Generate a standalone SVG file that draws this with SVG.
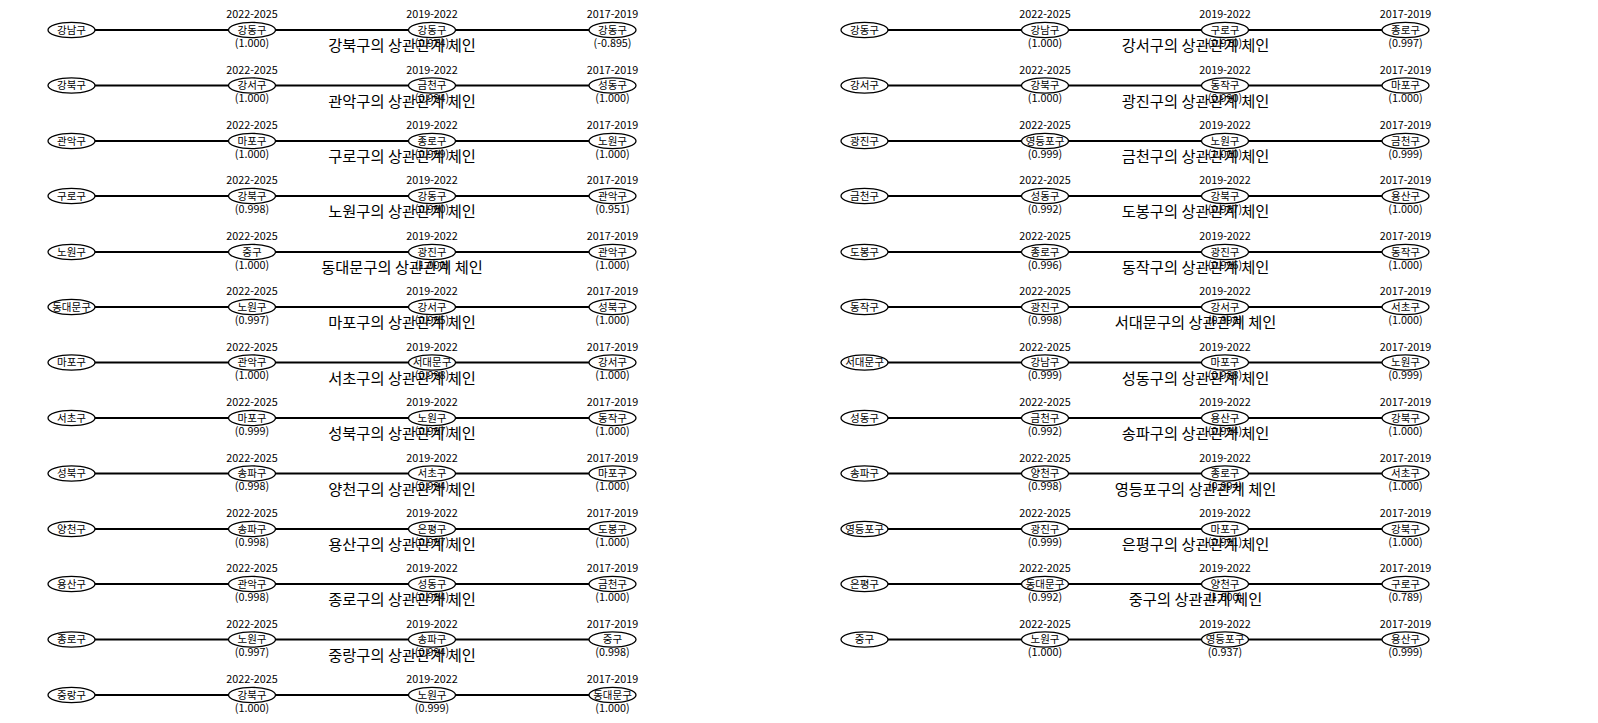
<svg xmlns="http://www.w3.org/2000/svg" width="1598" height="723" viewBox="0 0 1598 723">
<style>
text{font-family:"Noto Sans CJK KR","Noto Sans",sans-serif;text-anchor:middle;fill:#000}
.n ellipse{fill:#fff;stroke:#000;stroke-width:1.3}
.n text{font-size:10.5px}
.n text.y,.n text.v{font-size:10.8px}
.e line{stroke:#000;stroke-width:2}
.t{font-size:15.3px}
</style>
<rect width="1598" height="723" fill="#fff"/>
<g id="connectors" class="e">
<g transform="translate(0,30)"><line x1="71.5" x2="252"/><line x1="252" x2="432"/><line x1="432" x2="612.5"/><line x1="864.5" x2="1045"/><line x1="1045" x2="1225"/><line x1="1225" x2="1405.5"/></g>
<g transform="translate(0,85.5)"><line x1="71.5" x2="252"/><line x1="252" x2="432"/><line x1="432" x2="612.5"/><line x1="864.5" x2="1045"/><line x1="1045" x2="1225"/><line x1="1225" x2="1405.5"/></g>
<g transform="translate(0,141)"><line x1="71.5" x2="252"/><line x1="252" x2="432"/><line x1="432" x2="612.5"/><line x1="864.5" x2="1045"/><line x1="1045" x2="1225"/><line x1="1225" x2="1405.5"/></g>
<g transform="translate(0,196)"><line x1="71.5" x2="252"/><line x1="252" x2="432"/><line x1="432" x2="612.5"/><line x1="864.5" x2="1045"/><line x1="1045" x2="1225"/><line x1="1225" x2="1405.5"/></g>
<g transform="translate(0,252)"><line x1="71.5" x2="252"/><line x1="252" x2="432"/><line x1="432" x2="612.5"/><line x1="864.5" x2="1045"/><line x1="1045" x2="1225"/><line x1="1225" x2="1405.5"/></g>
<g transform="translate(0,307)"><line x1="71.5" x2="252"/><line x1="252" x2="432"/><line x1="432" x2="612.5"/><line x1="864.5" x2="1045"/><line x1="1045" x2="1225"/><line x1="1225" x2="1405.5"/></g>
<g transform="translate(0,362.5)"><line x1="71.5" x2="252"/><line x1="252" x2="432"/><line x1="432" x2="612.5"/><line x1="864.5" x2="1045"/><line x1="1045" x2="1225"/><line x1="1225" x2="1405.5"/></g>
<g transform="translate(0,418)"><line x1="71.5" x2="252"/><line x1="252" x2="432"/><line x1="432" x2="612.5"/><line x1="864.5" x2="1045"/><line x1="1045" x2="1225"/><line x1="1225" x2="1405.5"/></g>
<g transform="translate(0,473.5)"><line x1="71.5" x2="252"/><line x1="252" x2="432"/><line x1="432" x2="612.5"/><line x1="864.5" x2="1045"/><line x1="1045" x2="1225"/><line x1="1225" x2="1405.5"/></g>
<g transform="translate(0,529)"><line x1="71.5" x2="252"/><line x1="252" x2="432"/><line x1="432" x2="612.5"/><line x1="864.5" x2="1045"/><line x1="1045" x2="1225"/><line x1="1225" x2="1405.5"/></g>
<g transform="translate(0,584)"><line x1="71.5" x2="252"/><line x1="252" x2="432"/><line x1="432" x2="612.5"/><line x1="864.5" x2="1045"/><line x1="1045" x2="1225"/><line x1="1225" x2="1405.5"/></g>
<g transform="translate(0,639.5)"><line x1="71.5" x2="252"/><line x1="252" x2="432"/><line x1="432" x2="612.5"/><line x1="864.5" x2="1045"/><line x1="1045" x2="1225"/><line x1="1225" x2="1405.5"/></g>
<g transform="translate(0,695)"><line x1="71.5" x2="252"/><line x1="252" x2="432"/><line x1="432" x2="612.5"/></g>
</g>

<!-- LEFT PANEL -->
<g transform="translate(0,30)">
<g id="L0a" class="n" transform="translate(71.5,0)"><ellipse rx="23.5" ry="7.6"/><text y="3.6">강남구</text></g>
<g id="L0b" class="n" transform="translate(252,0)"><ellipse rx="23.5" ry="7.6"/><text y="3.6">강동구</text><text class="y" y="-11.9">2022-2025</text><text class="v" y="16.8">(1.000)</text></g>
<g id="L0c" class="n" transform="translate(432,0)"><ellipse rx="23.5" ry="7.6"/><text y="3.6">강동구</text><text class="y" y="-11.9">2019-2022</text><text class="v" y="16.8">(0.974)</text></g>
<g id="L0d" class="n" transform="translate(612.5,0)"><ellipse rx="23.5" ry="7.6"/><text y="3.6">강동구</text><text class="y" y="-11.9">2017-2019</text><text class="v" y="16.8">(-0.895)</text></g>
</g>
<g transform="translate(0,85.5)">
<g id="L1a" class="n" transform="translate(71.5,0)"><ellipse rx="23.5" ry="7.6"/><text y="3.6">강북구</text></g>
<g id="L1b" class="n" transform="translate(252,0)"><ellipse rx="23.5" ry="7.6"/><text y="3.6">강서구</text><text class="y" y="-11.9">2022-2025</text><text class="v" y="16.8">(1.000)</text></g>
<g id="L1c" class="n" transform="translate(432,0)"><ellipse rx="23.5" ry="7.6"/><text y="3.6">금천구</text><text class="y" y="-11.9">2019-2022</text><text class="v" y="16.8">(0.994)</text></g>
<g id="L1d" class="n" transform="translate(612.5,0)"><ellipse rx="23.5" ry="7.6"/><text y="3.6">성동구</text><text class="y" y="-11.9">2017-2019</text><text class="v" y="16.8">(1.000)</text></g>
</g>
<g transform="translate(0,141)">
<g id="L2a" class="n" transform="translate(71.5,0)"><ellipse rx="23.5" ry="7.6"/><text y="3.6">관악구</text></g>
<g id="L2b" class="n" transform="translate(252,0)"><ellipse rx="23.5" ry="7.6"/><text y="3.6">마포구</text><text class="y" y="-11.9">2022-2025</text><text class="v" y="16.8">(1.000)</text></g>
<g id="L2c" class="n" transform="translate(432,0)"><ellipse rx="23.5" ry="7.6"/><text y="3.6">종로구</text><text class="y" y="-11.9">2019-2022</text><text class="v" y="16.8">(0.999)</text></g>
<g id="L2d" class="n" transform="translate(612.5,0)"><ellipse rx="23.5" ry="7.6"/><text y="3.6">노원구</text><text class="y" y="-11.9">2017-2019</text><text class="v" y="16.8">(1.000)</text></g>
</g>
<g transform="translate(0,196)">
<g id="L3a" class="n" transform="translate(71.5,0)"><ellipse rx="23.5" ry="7.6"/><text y="3.6">구로구</text></g>
<g id="L3b" class="n" transform="translate(252,0)"><ellipse rx="23.5" ry="7.6"/><text y="3.6">강북구</text><text class="y" y="-11.9">2022-2025</text><text class="v" y="16.8">(0.998)</text></g>
<g id="L3c" class="n" transform="translate(432,0)"><ellipse rx="23.5" ry="7.6"/><text y="3.6">강동구</text><text class="y" y="-11.9">2019-2022</text><text class="v" y="16.8">(0.990)</text></g>
<g id="L3d" class="n" transform="translate(612.5,0)"><ellipse rx="23.5" ry="7.6"/><text y="3.6">관악구</text><text class="y" y="-11.9">2017-2019</text><text class="v" y="16.8">(0.951)</text></g>
</g>
<g transform="translate(0,252)">
<g id="L4a" class="n" transform="translate(71.5,0)"><ellipse rx="23.5" ry="7.6"/><text y="3.6">노원구</text></g>
<g id="L4b" class="n" transform="translate(252,0)"><ellipse rx="23.5" ry="7.6"/><text y="3.6">중구</text><text class="y" y="-11.9">2022-2025</text><text class="v" y="16.8">(1.000)</text></g>
<g id="L4c" class="n" transform="translate(432,0)"><ellipse rx="23.5" ry="7.6"/><text y="3.6">광진구</text><text class="y" y="-11.9">2019-2022</text><text class="v" y="16.8">(1.000)</text></g>
<g id="L4d" class="n" transform="translate(612.5,0)"><ellipse rx="23.5" ry="7.6"/><text y="3.6">관악구</text><text class="y" y="-11.9">2017-2019</text><text class="v" y="16.8">(1.000)</text></g>
</g>
<g transform="translate(0,307)">
<g id="L5a" class="n" transform="translate(71.5,0)"><ellipse rx="23.5" ry="7.6"/><text y="3.6">동대문구</text></g>
<g id="L5b" class="n" transform="translate(252,0)"><ellipse rx="23.5" ry="7.6"/><text y="3.6">노원구</text><text class="y" y="-11.9">2022-2025</text><text class="v" y="16.8">(0.997)</text></g>
<g id="L5c" class="n" transform="translate(432,0)"><ellipse rx="23.5" ry="7.6"/><text y="3.6">강서구</text><text class="y" y="-11.9">2019-2022</text><text class="v" y="16.8">(0.995)</text></g>
<g id="L5d" class="n" transform="translate(612.5,0)"><ellipse rx="23.5" ry="7.6"/><text y="3.6">성북구</text><text class="y" y="-11.9">2017-2019</text><text class="v" y="16.8">(1.000)</text></g>
</g>
<g transform="translate(0,362.5)">
<g id="L6a" class="n" transform="translate(71.5,0)"><ellipse rx="23.5" ry="7.6"/><text y="3.6">마포구</text></g>
<g id="L6b" class="n" transform="translate(252,0)"><ellipse rx="23.5" ry="7.6"/><text y="3.6">관악구</text><text class="y" y="-11.9">2022-2025</text><text class="v" y="16.8">(1.000)</text></g>
<g id="L6c" class="n" transform="translate(432,0)"><ellipse rx="23.5" ry="7.6"/><text y="3.6">서대문구</text><text class="y" y="-11.9">2019-2022</text><text class="v" y="16.8">(0.998)</text></g>
<g id="L6d" class="n" transform="translate(612.5,0)"><ellipse rx="23.5" ry="7.6"/><text y="3.6">강서구</text><text class="y" y="-11.9">2017-2019</text><text class="v" y="16.8">(1.000)</text></g>
</g>
<g transform="translate(0,418)">
<g id="L7a" class="n" transform="translate(71.5,0)"><ellipse rx="23.5" ry="7.6"/><text y="3.6">서초구</text></g>
<g id="L7b" class="n" transform="translate(252,0)"><ellipse rx="23.5" ry="7.6"/><text y="3.6">마포구</text><text class="y" y="-11.9">2022-2025</text><text class="v" y="16.8">(0.999)</text></g>
<g id="L7c" class="n" transform="translate(432,0)"><ellipse rx="23.5" ry="7.6"/><text y="3.6">노원구</text><text class="y" y="-11.9">2019-2022</text><text class="v" y="16.8">(0.997)</text></g>
<g id="L7d" class="n" transform="translate(612.5,0)"><ellipse rx="23.5" ry="7.6"/><text y="3.6">동작구</text><text class="y" y="-11.9">2017-2019</text><text class="v" y="16.8">(1.000)</text></g>
</g>
<g transform="translate(0,473.5)">
<g id="L8a" class="n" transform="translate(71.5,0)"><ellipse rx="23.5" ry="7.6"/><text y="3.6">성북구</text></g>
<g id="L8b" class="n" transform="translate(252,0)"><ellipse rx="23.5" ry="7.6"/><text y="3.6">송파구</text><text class="y" y="-11.9">2022-2025</text><text class="v" y="16.8">(0.998)</text></g>
<g id="L8c" class="n" transform="translate(432,0)"><ellipse rx="23.5" ry="7.6"/><text y="3.6">서초구</text><text class="y" y="-11.9">2019-2022</text><text class="v" y="16.8">(0.994)</text></g>
<g id="L8d" class="n" transform="translate(612.5,0)"><ellipse rx="23.5" ry="7.6"/><text y="3.6">마포구</text><text class="y" y="-11.9">2017-2019</text><text class="v" y="16.8">(1.000)</text></g>
</g>
<g transform="translate(0,529)">
<g id="L9a" class="n" transform="translate(71.5,0)"><ellipse rx="23.5" ry="7.6"/><text y="3.6">양천구</text></g>
<g id="L9b" class="n" transform="translate(252,0)"><ellipse rx="23.5" ry="7.6"/><text y="3.6">송파구</text><text class="y" y="-11.9">2022-2025</text><text class="v" y="16.8">(0.998)</text></g>
<g id="L9c" class="n" transform="translate(432,0)"><ellipse rx="23.5" ry="7.6"/><text y="3.6">은평구</text><text class="y" y="-11.9">2019-2022</text><text class="v" y="16.8">(0.997)</text></g>
<g id="L9d" class="n" transform="translate(612.5,0)"><ellipse rx="23.5" ry="7.6"/><text y="3.6">도봉구</text><text class="y" y="-11.9">2017-2019</text><text class="v" y="16.8">(1.000)</text></g>
</g>
<g transform="translate(0,584)">
<g id="L10a" class="n" transform="translate(71.5,0)"><ellipse rx="23.5" ry="7.6"/><text y="3.6">용산구</text></g>
<g id="L10b" class="n" transform="translate(252,0)"><ellipse rx="23.5" ry="7.6"/><text y="3.6">관악구</text><text class="y" y="-11.9">2022-2025</text><text class="v" y="16.8">(0.998)</text></g>
<g id="L10c" class="n" transform="translate(432,0)"><ellipse rx="23.5" ry="7.6"/><text y="3.6">성동구</text><text class="y" y="-11.9">2019-2022</text><text class="v" y="16.8">(0.994)</text></g>
<g id="L10d" class="n" transform="translate(612.5,0)"><ellipse rx="23.5" ry="7.6"/><text y="3.6">금천구</text><text class="y" y="-11.9">2017-2019</text><text class="v" y="16.8">(1.000)</text></g>
</g>
<g transform="translate(0,639.5)">
<g id="L11a" class="n" transform="translate(71.5,0)"><ellipse rx="23.5" ry="7.6"/><text y="3.6">종로구</text></g>
<g id="L11b" class="n" transform="translate(252,0)"><ellipse rx="23.5" ry="7.6"/><text y="3.6">노원구</text><text class="y" y="-11.9">2022-2025</text><text class="v" y="16.8">(0.997)</text></g>
<g id="L11c" class="n" transform="translate(432,0)"><ellipse rx="23.5" ry="7.6"/><text y="3.6">송파구</text><text class="y" y="-11.9">2019-2022</text><text class="v" y="16.8">(0.994)</text></g>
<g id="L11d" class="n" transform="translate(612.5,0)"><ellipse rx="23.5" ry="7.6"/><text y="3.6">중구</text><text class="y" y="-11.9">2017-2019</text><text class="v" y="16.8">(0.998)</text></g>
</g>
<g transform="translate(0,695)">
<g id="L12a" class="n" transform="translate(71.5,0)"><ellipse rx="23.5" ry="7.6"/><text y="3.6">중랑구</text></g>
<g id="L12b" class="n" transform="translate(252,0)"><ellipse rx="23.5" ry="7.6"/><text y="3.6">강북구</text><text class="y" y="-11.9">2022-2025</text><text class="v" y="16.8">(1.000)</text></g>
<g id="L12c" class="n" transform="translate(432,0)"><ellipse rx="23.5" ry="7.6"/><text y="3.6">노원구</text><text class="y" y="-11.9">2019-2022</text><text class="v" y="16.8">(0.999)</text></g>
<g id="L12d" class="n" transform="translate(612.5,0)"><ellipse rx="23.5" ry="7.6"/><text y="3.6">동대문구</text><text class="y" y="-11.9">2017-2019</text><text class="v" y="16.8">(1.000)</text></g>
</g>

<!-- RIGHT PANEL -->
<g transform="translate(0,30)">
<g id="R0a" class="n" transform="translate(864.5,0)"><ellipse rx="23.5" ry="7.6"/><text y="3.6">강동구</text></g>
<g id="R0b" class="n" transform="translate(1045,0)"><ellipse rx="23.5" ry="7.6"/><text y="3.6">강남구</text><text class="y" y="-11.9">2022-2025</text><text class="v" y="16.8">(1.000)</text></g>
<g id="R0c" class="n" transform="translate(1225,0)"><ellipse rx="23.5" ry="7.6"/><text y="3.6">구로구</text><text class="y" y="-11.9">2019-2022</text><text class="v" y="16.8">(0.970)</text></g>
<g id="R0d" class="n" transform="translate(1405.5,0)"><ellipse rx="23.5" ry="7.6"/><text y="3.6">종로구</text><text class="y" y="-11.9">2017-2019</text><text class="v" y="16.8">(0.997)</text></g>
</g>
<g transform="translate(0,85.5)">
<g id="R1a" class="n" transform="translate(864.5,0)"><ellipse rx="23.5" ry="7.6"/><text y="3.6">강서구</text></g>
<g id="R1b" class="n" transform="translate(1045,0)"><ellipse rx="23.5" ry="7.6"/><text y="3.6">강북구</text><text class="y" y="-11.9">2022-2025</text><text class="v" y="16.8">(1.000)</text></g>
<g id="R1c" class="n" transform="translate(1225,0)"><ellipse rx="23.5" ry="7.6"/><text y="3.6">동작구</text><text class="y" y="-11.9">2019-2022</text><text class="v" y="16.8">(0.990)</text></g>
<g id="R1d" class="n" transform="translate(1405.5,0)"><ellipse rx="23.5" ry="7.6"/><text y="3.6">마포구</text><text class="y" y="-11.9">2017-2019</text><text class="v" y="16.8">(1.000)</text></g>
</g>
<g transform="translate(0,141)">
<g id="R2a" class="n" transform="translate(864.5,0)"><ellipse rx="23.5" ry="7.6"/><text y="3.6">광진구</text></g>
<g id="R2b" class="n" transform="translate(1045,0)"><ellipse rx="23.5" ry="7.6"/><text y="3.6">영등포구</text><text class="y" y="-11.9">2022-2025</text><text class="v" y="16.8">(0.999)</text></g>
<g id="R2c" class="n" transform="translate(1225,0)"><ellipse rx="23.5" ry="7.6"/><text y="3.6">노원구</text><text class="y" y="-11.9">2019-2022</text><text class="v" y="16.8">(1.000)</text></g>
<g id="R2d" class="n" transform="translate(1405.5,0)"><ellipse rx="23.5" ry="7.6"/><text y="3.6">금천구</text><text class="y" y="-11.9">2017-2019</text><text class="v" y="16.8">(0.999)</text></g>
</g>
<g transform="translate(0,196)">
<g id="R3a" class="n" transform="translate(864.5,0)"><ellipse rx="23.5" ry="7.6"/><text y="3.6">금천구</text></g>
<g id="R3b" class="n" transform="translate(1045,0)"><ellipse rx="23.5" ry="7.6"/><text y="3.6">성동구</text><text class="y" y="-11.9">2022-2025</text><text class="v" y="16.8">(0.992)</text></g>
<g id="R3c" class="n" transform="translate(1225,0)"><ellipse rx="23.5" ry="7.6"/><text y="3.6">강북구</text><text class="y" y="-11.9">2019-2022</text><text class="v" y="16.8">(0.987)</text></g>
<g id="R3d" class="n" transform="translate(1405.5,0)"><ellipse rx="23.5" ry="7.6"/><text y="3.6">용산구</text><text class="y" y="-11.9">2017-2019</text><text class="v" y="16.8">(1.000)</text></g>
</g>
<g transform="translate(0,252)">
<g id="R4a" class="n" transform="translate(864.5,0)"><ellipse rx="23.5" ry="7.6"/><text y="3.6">도봉구</text></g>
<g id="R4b" class="n" transform="translate(1045,0)"><ellipse rx="23.5" ry="7.6"/><text y="3.6">종로구</text><text class="y" y="-11.9">2022-2025</text><text class="v" y="16.8">(0.996)</text></g>
<g id="R4c" class="n" transform="translate(1225,0)"><ellipse rx="23.5" ry="7.6"/><text y="3.6">광진구</text><text class="y" y="-11.9">2019-2022</text><text class="v" y="16.8">(0.996)</text></g>
<g id="R4d" class="n" transform="translate(1405.5,0)"><ellipse rx="23.5" ry="7.6"/><text y="3.6">동작구</text><text class="y" y="-11.9">2017-2019</text><text class="v" y="16.8">(1.000)</text></g>
</g>
<g transform="translate(0,307)">
<g id="R5a" class="n" transform="translate(864.5,0)"><ellipse rx="23.5" ry="7.6"/><text y="3.6">동작구</text></g>
<g id="R5b" class="n" transform="translate(1045,0)"><ellipse rx="23.5" ry="7.6"/><text y="3.6">광진구</text><text class="y" y="-11.9">2022-2025</text><text class="v" y="16.8">(0.998)</text></g>
<g id="R5c" class="n" transform="translate(1225,0)"><ellipse rx="23.5" ry="7.6"/><text y="3.6">강서구</text><text class="y" y="-11.9">2019-2022</text><text class="v" y="16.8">(0.998)</text></g>
<g id="R5d" class="n" transform="translate(1405.5,0)"><ellipse rx="23.5" ry="7.6"/><text y="3.6">서초구</text><text class="y" y="-11.9">2017-2019</text><text class="v" y="16.8">(1.000)</text></g>
</g>
<g transform="translate(0,362.5)">
<g id="R6a" class="n" transform="translate(864.5,0)"><ellipse rx="23.5" ry="7.6"/><text y="3.6">서대문구</text></g>
<g id="R6b" class="n" transform="translate(1045,0)"><ellipse rx="23.5" ry="7.6"/><text y="3.6">강남구</text><text class="y" y="-11.9">2022-2025</text><text class="v" y="16.8">(0.999)</text></g>
<g id="R6c" class="n" transform="translate(1225,0)"><ellipse rx="23.5" ry="7.6"/><text y="3.6">마포구</text><text class="y" y="-11.9">2019-2022</text><text class="v" y="16.8">(0.988)</text></g>
<g id="R6d" class="n" transform="translate(1405.5,0)"><ellipse rx="23.5" ry="7.6"/><text y="3.6">노원구</text><text class="y" y="-11.9">2017-2019</text><text class="v" y="16.8">(0.999)</text></g>
</g>
<g transform="translate(0,418)">
<g id="R7a" class="n" transform="translate(864.5,0)"><ellipse rx="23.5" ry="7.6"/><text y="3.6">성동구</text></g>
<g id="R7b" class="n" transform="translate(1045,0)"><ellipse rx="23.5" ry="7.6"/><text y="3.6">금천구</text><text class="y" y="-11.9">2022-2025</text><text class="v" y="16.8">(0.992)</text></g>
<g id="R7c" class="n" transform="translate(1225,0)"><ellipse rx="23.5" ry="7.6"/><text y="3.6">용산구</text><text class="y" y="-11.9">2019-2022</text><text class="v" y="16.8">(0.994)</text></g>
<g id="R7d" class="n" transform="translate(1405.5,0)"><ellipse rx="23.5" ry="7.6"/><text y="3.6">강북구</text><text class="y" y="-11.9">2017-2019</text><text class="v" y="16.8">(1.000)</text></g>
</g>
<g transform="translate(0,473.5)">
<g id="R8a" class="n" transform="translate(864.5,0)"><ellipse rx="23.5" ry="7.6"/><text y="3.6">송파구</text></g>
<g id="R8b" class="n" transform="translate(1045,0)"><ellipse rx="23.5" ry="7.6"/><text y="3.6">양천구</text><text class="y" y="-11.9">2022-2025</text><text class="v" y="16.8">(0.998)</text></g>
<g id="R8c" class="n" transform="translate(1225,0)"><ellipse rx="23.5" ry="7.6"/><text y="3.6">종로구</text><text class="y" y="-11.9">2019-2022</text><text class="v" y="16.8">(0.994)</text></g>
<g id="R8d" class="n" transform="translate(1405.5,0)"><ellipse rx="23.5" ry="7.6"/><text y="3.6">서초구</text><text class="y" y="-11.9">2017-2019</text><text class="v" y="16.8">(1.000)</text></g>
</g>
<g transform="translate(0,529)">
<g id="R9a" class="n" transform="translate(864.5,0)"><ellipse rx="23.5" ry="7.6"/><text y="3.6">영등포구</text></g>
<g id="R9b" class="n" transform="translate(1045,0)"><ellipse rx="23.5" ry="7.6"/><text y="3.6">광진구</text><text class="y" y="-11.9">2022-2025</text><text class="v" y="16.8">(0.999)</text></g>
<g id="R9c" class="n" transform="translate(1225,0)"><ellipse rx="23.5" ry="7.6"/><text y="3.6">마포구</text><text class="y" y="-11.9">2019-2022</text><text class="v" y="16.8">(0.991)</text></g>
<g id="R9d" class="n" transform="translate(1405.5,0)"><ellipse rx="23.5" ry="7.6"/><text y="3.6">강북구</text><text class="y" y="-11.9">2017-2019</text><text class="v" y="16.8">(1.000)</text></g>
</g>
<g transform="translate(0,584)">
<g id="R10a" class="n" transform="translate(864.5,0)"><ellipse rx="23.5" ry="7.6"/><text y="3.6">은평구</text></g>
<g id="R10b" class="n" transform="translate(1045,0)"><ellipse rx="23.5" ry="7.6"/><text y="3.6">동대문구</text><text class="y" y="-11.9">2022-2025</text><text class="v" y="16.8">(0.992)</text></g>
<g id="R10c" class="n" transform="translate(1225,0)"><ellipse rx="23.5" ry="7.6"/><text y="3.6">양천구</text><text class="y" y="-11.9">2019-2022</text><text class="v" y="16.8">(1.000)</text></g>
<g id="R10d" class="n" transform="translate(1405.5,0)"><ellipse rx="23.5" ry="7.6"/><text y="3.6">구로구</text><text class="y" y="-11.9">2017-2019</text><text class="v" y="16.8">(0.789)</text></g>
</g>
<g transform="translate(0,639.5)">
<g id="R11a" class="n" transform="translate(864.5,0)"><ellipse rx="23.5" ry="7.6"/><text y="3.6">중구</text></g>
<g id="R11b" class="n" transform="translate(1045,0)"><ellipse rx="23.5" ry="7.6"/><text y="3.6">노원구</text><text class="y" y="-11.9">2022-2025</text><text class="v" y="16.8">(1.000)</text></g>
<g id="R11c" class="n" transform="translate(1225,0)"><ellipse rx="23.5" ry="7.6"/><text y="3.6">영등포구</text><text class="y" y="-11.9">2019-2022</text><text class="v" y="16.8">(0.937)</text></g>
<g id="R11d" class="n" transform="translate(1405.5,0)"><ellipse rx="23.5" ry="7.6"/><text y="3.6">용산구</text><text class="y" y="-11.9">2017-2019</text><text class="v" y="16.8">(0.999)</text></g>
</g>

<g id="titles">
<text class="t" x="402" y="51">강북구의 상관관계 체인</text>
<text class="t" x="402" y="106.5">관악구의 상관관계 체인</text>
<text class="t" x="402" y="162">구로구의 상관관계 체인</text>
<text class="t" x="402" y="217">노원구의 상관관계 체인</text>
<text class="t" x="402" y="273">동대문구의 상관관계 체인</text>
<text class="t" x="402" y="328">마포구의 상관관계 체인</text>
<text class="t" x="402" y="383.5">서초구의 상관관계 체인</text>
<text class="t" x="402" y="439">성북구의 상관관계 체인</text>
<text class="t" x="402" y="494.5">양천구의 상관관계 체인</text>
<text class="t" x="402" y="550">용산구의 상관관계 체인</text>
<text class="t" x="402" y="605">종로구의 상관관계 체인</text>
<text class="t" x="402" y="660.5">중랑구의 상관관계 체인</text>
<text class="t" x="1195.5" y="51">강서구의 상관관계 체인</text>
<text class="t" x="1195.5" y="106.5">광진구의 상관관계 체인</text>
<text class="t" x="1195.5" y="162">금천구의 상관관계 체인</text>
<text class="t" x="1195.5" y="217">도봉구의 상관관계 체인</text>
<text class="t" x="1195.5" y="273">동작구의 상관관계 체인</text>
<text class="t" x="1195.5" y="328">서대문구의 상관관계 체인</text>
<text class="t" x="1195.5" y="383.5">성동구의 상관관계 체인</text>
<text class="t" x="1195.5" y="439">송파구의 상관관계 체인</text>
<text class="t" x="1195.5" y="494.5">영등포구의 상관관계 체인</text>
<text class="t" x="1195.5" y="550">은평구의 상관관계 체인</text>
<text class="t" x="1195.5" y="605">중구의 상관관계 체인</text>
</g>
</svg>
